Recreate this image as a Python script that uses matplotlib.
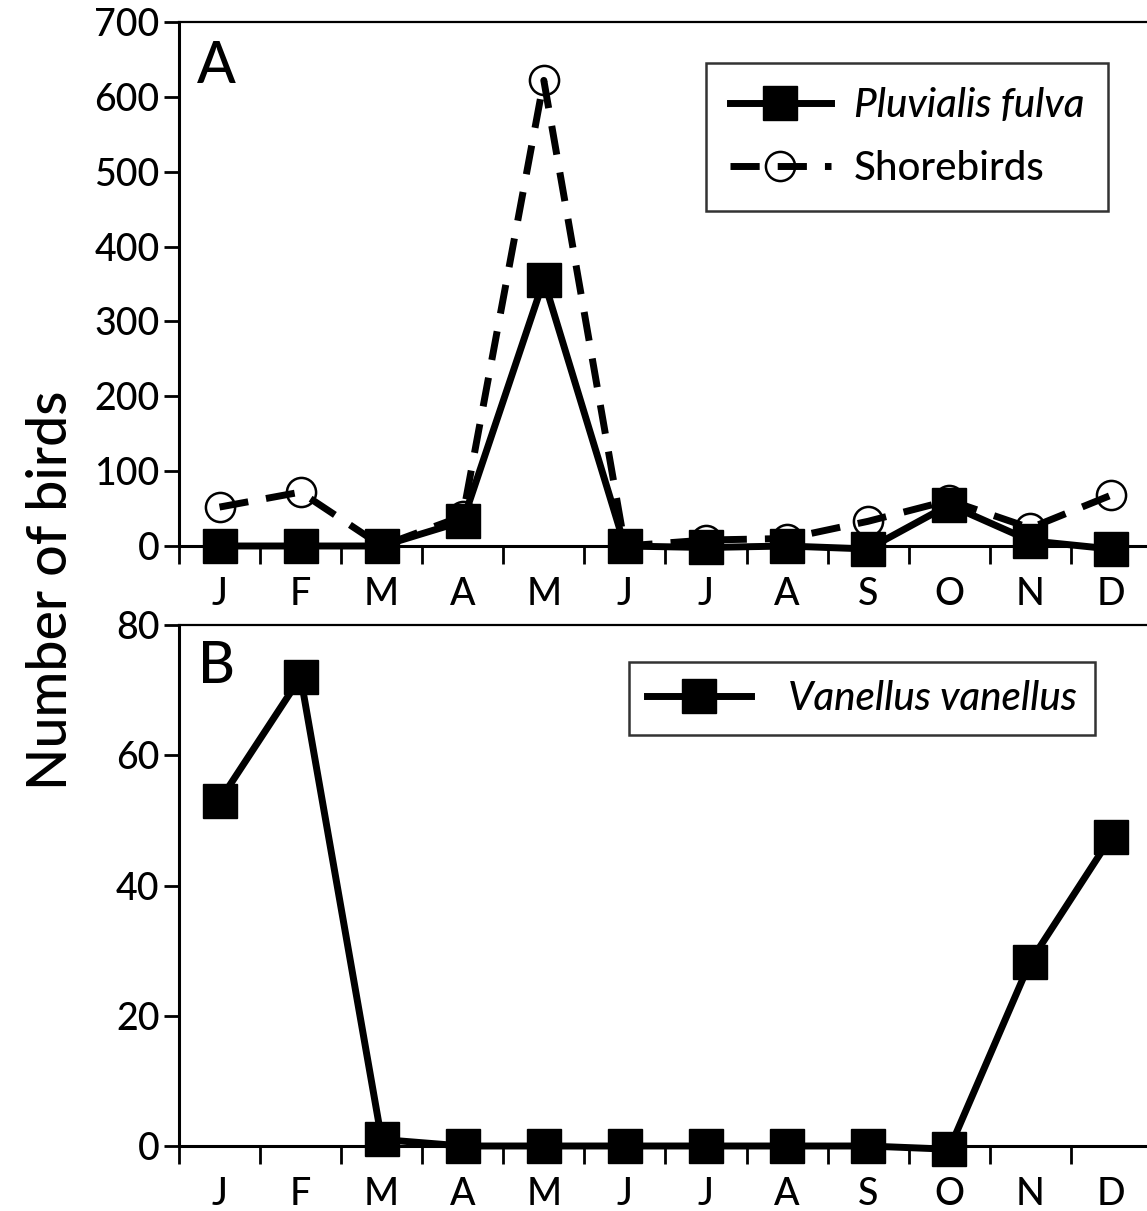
import numpy as np
import matplotlib.pyplot as plt
from matplotlib.ticker import FixedLocator, NullFormatter

plt.rcParams['font.family'] = ['Lato', 'DejaVu Sans']
plt.rcParams['font.weight'] = 'medium'

# month labels
months = ['J', 'F', 'M', 'A', 'M', 'J', 'J', 'A', 'S', 'O', 'N', 'D']

# panel A: counts
pluvialis = [0, 0, 0, 33, 355, 0, -2, 0, -4, 55, 7, -4]
shorebirds = [52, 72, 0, 40, 622, 0, 8, 10, 33, 61, 24, 68]

# panel B: counts
vanellus = [53, 72, 1, 0, 0, 0, 0, 0, 0, -0.5, 28.3, 47.5]

x = np.arange(len(months))

fig = plt.figure(figsize=(11.47, 12.11), dpi=100)
W, H = 1147, 1211
left = 179 / W
axA = fig.add_axes([left, 1 - 546 / H, 1 - left, (546 - 22) / H])
axB = fig.add_axes([left, 1 - 1146 / H, 1 - left, (1146 - 625) / H])

lw = 5
sq = dict(marker='s', markersize=24, color='black', lw=lw, clip_on=False)

def style(ax, ymax, ystep):
    ax.set_xlim(-0.5, 11.44)
    ax.set_ylim(0, ymax)
    ax.spines['right'].set_visible(False)
    ax.spines['left'].set_linewidth(2.2)
    ax.spines['bottom'].set_linewidth(2.2)
    ax.spines['top'].set_linewidth(1.6)
    ax.set_yticks(np.arange(0, ymax + 1, ystep))
    ax.tick_params(axis='y', direction='out', length=11, width=2, labelsize=27, pad=3)
    ax.set_xticks(x)
    ax.set_xticklabels(months)
    ax.xaxis.set_minor_locator(FixedLocator(np.arange(-0.5, 11, 1.0)))
    ax.xaxis.set_minor_formatter(NullFormatter())
    ax.tick_params(axis='x', which='major', length=0, labelsize=27, pad=22)
    ax.tick_params(axis='x', which='minor', direction='out', length=13, width=2)

leg_kw = dict(fontsize=29, frameon=True, fancybox=False, edgecolor='black',
              borderaxespad=0)

# panel A
axA.plot(x, shorebirds, color='black', lw=lw, dashes=(4.2, 2.6), marker='o',
         markersize=21, mfc='none', mec='black', mew=1.8, clip_on=False,
         label='Shorebirds')
axA.plot(x, pluvialis, label='Pluvialis fulva', **sq)
style(axA, 700, 100)
axA.text(0.0186, 0.8836, 'A', transform=axA.transAxes, fontsize=41,
         va='baseline', ha='left')
hA, lA = axA.get_legend_handles_labels()
legA = axA.legend(hA[::-1], lA[::-1], loc='upper right', bbox_to_anchor=(0.960, 0.922),
                  handlelength=2.5, handletextpad=0.57, labelspacing=0.65,
                  borderpad=0.6, **leg_kw)
legA.get_frame().set_linewidth(1.8)
legA.get_texts()[0].set_style('italic')

# panel B
axB.plot(x, vanellus, label='Vanellus vanellus', **sq)
style(axB, 80, 20)
axB.text(0.0196, 0.8887, 'B', transform=axB.transAxes, fontsize=41,
         va='baseline', ha='left')
legB = axB.legend(loc='upper right', bbox_to_anchor=(0.946, 0.929),
                  handlelength=2.6, handletextpad=0.9, borderpad=0.45, **leg_kw)
legB.get_frame().set_linewidth(1.8)
legB.get_texts()[0].set_style('italic')

fig.text(52 / W, 1 - 590 / H, 'Number of birds', rotation=90, fontsize=40,
         ha='center', va='center')

fig.savefig('out.png', dpi=100)
